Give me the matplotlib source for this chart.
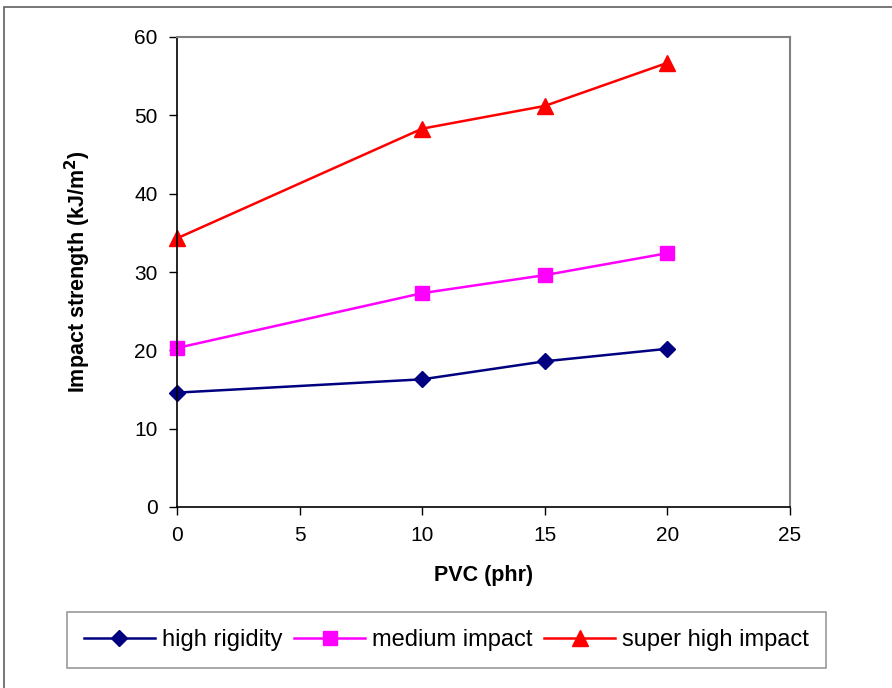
import matplotlib
matplotlib.use("Agg")
import matplotlib.pyplot as plt
from matplotlib.patches import Rectangle

plt.rcParams['font.family'] = ['Liberation Sans', 'DejaVu Sans']

# data
pvc = [0, 10, 15, 20]
high_rigidity = [14.6, 16.3, 18.6, 20.2]
medium_impact = [20.3, 27.3, 29.6, 32.4]
super_high_impact = [34.3, 48.3, 51.2, 56.7]
x_ticks = [0, 5, 10, 15, 20, 25]
y_ticks = [0, 10, 20, 30, 40, 50, 60]

W, H = 892, 688
fig = plt.figure(figsize=(W / 100, H / 100), dpi=100)
ax = fig.add_axes([177 / W, 1 - 507 / H, (790 - 177) / W, (507 - 37) / H])

ax.plot(pvc, high_rigidity, color='#000080', marker='D', markersize=8, lw=1.8, label='high rigidity')
ax.plot(pvc, medium_impact, color='#ff00ff', marker='s', markersize=10, lw=1.8, label='medium impact')
ax.plot(pvc, super_high_impact, color='#ff0000', marker='^', markersize=11, lw=1.8, label='super high impact')

ax.set_xlim(0, 25)
ax.set_ylim(0, 60)
ax.set_xticks(x_ticks)
ax.set_yticks(y_ticks)
ax.tick_params(labelsize=15, length=6, width=1, direction='out', pad=8)
for s in ['top', 'right']:
    ax.spines[s].set_color('#808080')
    ax.spines[s].set_linewidth(1.5)
for s in ['left', 'bottom']:
    ax.spines[s].set_color('black')
    ax.spines[s].set_linewidth(1.2)
for p in ax.get_lines():
    p.set_clip_on(False)

ax.set_xlabel('PVC (phr)', fontsize=15.5, fontweight='bold', labelpad=14)
ax.set_ylabel('Impact strength (kJ/m$^\\mathbf{2}$)', fontsize=15.5, fontweight='bold', labelpad=30)

leg = fig.legend(loc='center', bbox_to_anchor=((67 + 826) / 2 / W, 1 - 640 / H),
                 ncol=3, fontsize=17, frameon=True, fancybox=False,
                 edgecolor='#808080', handlelength=3.0, columnspacing=0.5,
                 handletextpad=0.3, borderpad=0.7, borderaxespad=0)
leg.get_frame().set_linewidth(1.2)

# outer chart frame
fig.patches.append(Rectangle((4 / W, -0.05), 1.1, 1 - 7 / H + 0.05,
                             transform=fig.transFigure, fill=False,
                             edgecolor='#606060', lw=1.2))

fig.savefig('out.png', dpi=100)
